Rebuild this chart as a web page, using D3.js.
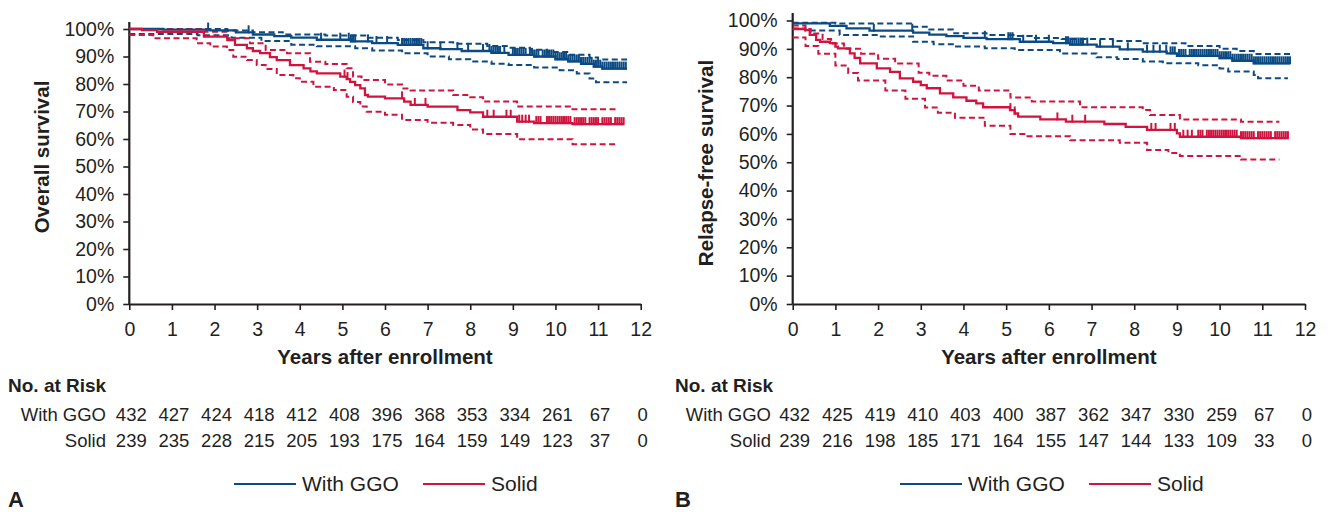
<!DOCTYPE html>
<html>
<head>
<meta charset="utf-8">
<script src="https://cdn.jsdelivr.net/npm/d3@7"></script>
<style>
  body { margin: 0; background: #fff; }
  svg { font-family: "Liberation Sans", Arial, Helvetica, sans-serif; }
</style>
</head>
<body>
<div id="chart"></div>
<script>
// ---- data ----
const years = [0, 1, 2, 3, 4, 5, 6, 7, 8, 9, 10, 11, 12];
const pctTicks = [0, 10, 20, 30, 40, 50, 60, 70, 80, 90, 100];
const groups = ["With GGO", "Solid"];

// Panel A: overall survival, steps are [year, % surviving from that year on]
const osGgo = [[0,100],[0.8,99.8],[1.9,99.5],[2.5,98.8],[2.9,98],[3.4,97.4],[3.8,96.9],[4.4,96.1],[5.2,95.5],[5.7,94.9],[6.3,94.2],[6.9,93],[7.3,92.7],[7.8,92],[8.5,91.3],[8.9,90.6],[9.5,90],[10.0,89],[10.3,88.2],[10.6,87.3],[10.9,86.3],[11.1,85.6]];
const osGgoHi = [[0,100],[2.3,99.5],[2.9,98.8],[3.6,98],[4.6,97.6],[5.6,96.8],[6.3,96],[6.9,95.2],[7.6,94.6],[8.4,93.8],[8.9,93.2],[9.4,92.5],[9.8,91.6],[10.3,90.6],[10.8,89.6],[11.0,88.9]];
const osGgoLo = [[0,98.2],[1.6,97.7],[2.4,96.8],[3.1,95.6],[3.8,94.3],[4.4,93.7],[5.3,93],[5.7,92.2],[6.4,91.2],[7.0,90],[7.5,89],[8.0,88.2],[8.5,87.4],[8.9,86.9],[9.5,86],[10.1,85],[10.5,83.8],[10.8,82],[10.95,80.6]];
const osSolid = [[0,100],[0.3,99.6],[0.65,99],[1.75,97.2],[2.3,96],[2.48,94.2],[2.76,93],[2.9,92],[3.07,91.2],[3.3,89.8],[3.46,88.7],[3.77,86.9],[4.09,85.7],[4.25,84.6],[4.4,83.9],[4.95,82.7],[5.1,81.8],[5.18,80.8],[5.3,79.6],[5.42,78.4],[5.53,76],[5.6,75.4],[6.0,74.8],[6.45,73.6],[6.6,72.4],[7.0,71.8],[7.7,70.5],[8.0,69.7],[8.3,68.1],[9.1,66.3],[9.5,65.8],[10.4,65.4]];
const osSolidHi = [[0,100],[1.8,99],[2.3,96.6],[2.83,94.8],[3.2,92.4],[3.7,91.2],[4.24,88.1],[4.6,87.3],[5.1,85.7],[5.25,82.7],[5.45,81.5],[6.0,79.8],[6.4,78.4],[6.6,77.6],[7.6,76],[8.0,75.2],[8.3,73.6],[9.1,71.8],[10.4,70.8]];
const osSolidLo = [[0,97.8],[0.56,96.6],[1.58,94.8],[1.9,93.6],[2.29,92.4],[2.44,89.9],[2.76,88.7],[2.99,86.9],[3.2,85.5],[3.46,83.3],[3.85,82.1],[4.0,80.8],[4.32,79],[4.8,77.8],[5.1,75.4],[5.25,73.5],[5.42,71.8],[5.57,69.9],[6.0,68.8],[6.4,66.9],[7.0,65.9],[7.6,65.1],[8.0,63.5],[8.3,61.8],[9.1,59.9],[10.4,58.1]];
const osEnd = { ggo: 11.68, ggoHi: 11.68, ggoLo: 11.68, solid: 11.6, solidHi: 11.45, solidLo: 11.45 };
const osGgoCens = [1.85, 2.8, 4.5, 4.95, 5.15, 5.2, 5.25, 5.3, 5.6, 5.8, 6.05, 6.4, 6.45, 6.5, 6.55, 6.6, 6.65, 6.7, 6.75, 6.8, 6.85, 7.0, 7.3, 7.7, 7.95, 8.3, 8.45, 8.5, 8.55, 8.6, 8.65, 8.7, 8.8, 9.0, 9.05, 9.1, 9.15, 9.2, 9.25, 9.3, 9.4, 9.45, 9.5, 9.55, 9.6, 9.7, 9.75, 9.8, 9.85, 9.9, 9.95, 10.0, 10.05, 10.1, 10.15, 10.2, 10.25, 10.3, 10.35, 10.4, 10.45, 10.5, 10.55, 10.6, 10.65, 10.7, 10.75, 10.8, 10.85, 10.9, 10.95, 11.0, 11.05, 11.1, 11.15, 11.2, 11.25, 11.3, 11.35, 11.4, 11.45, 11.5, 11.55, 11.6, 11.65];
const osSolidCens = [5.05, 5.12, 6.4, 6.7, 6.95, 8.4, 8.55, 8.85, 8.95, 9.15, 9.22, 9.3, 9.38, 9.55, 9.6, 9.65, 9.8, 9.85, 9.9, 9.95, 10.0, 10.05, 10.1, 10.15, 10.2, 10.25, 10.3, 10.35, 10.45, 10.5, 10.55, 10.6, 10.65, 10.7, 10.8, 10.85, 10.9, 10.95, 11.0, 11.1, 11.15, 11.2, 11.25, 11.3, 11.4, 11.45, 11.5, 11.55, 11.6];

// Panel B: relapse-free survival
const rfsGgo = [[0,99],[0.87,98.1],[1.26,97.2],[1.8,96.4],[2.82,95.7],[3.2,95],[3.6,94.5],[4.0,93.9],[4.54,93.4],[5.32,92.5],[6.1,92],[6.5,91.5],[7.12,90.8],[7.66,89.8],[8.2,89],[8.76,88.4],[9.0,87.5],[10.0,86.7],[10.3,85.8],[10.8,84.9]];
const rfsGgoHi = [[0,99.2],[1.0,98.9],[2.82,97.8],[3.2,96.8],[3.75,95.5],[4.54,94.9],[5.2,94.5],[5.6,93.8],[6.3,93.5],[7.5,92.8],[8.2,92],[9.2,91],[10.0,90],[10.4,89.2],[10.8,88.2]];
const rfsGgoLo = [[0,97.2],[0.3,96.5],[1.1,94.9],[2.0,94.4],[2.82,92.5],[3.3,91.6],[3.75,90.8],[4.5,90.2],[5.2,89.6],[6.26,88.4],[7.12,87],[7.6,86.4],[8.2,85.5],[8.67,84.9],[9.5,84.2],[10.0,83.1],[10.2,82],[10.8,80.8],[10.9,79.6]];
const rfsSolid = [[0,97],[0.29,96.6],[0.4,94.9],[0.55,93.2],[0.64,92.5],[0.87,92],[1.0,90.8],[1.06,90.2],[1.34,88.4],[1.45,86.8],[1.58,84.9],[1.97,83.1],[2.28,81.9],[2.51,79.6],[2.82,78.4],[3.0,77.2],[3.14,76.1],[3.45,74.3],[3.76,72.9],[4.07,71.7],[4.3,70.8],[4.46,69.4],[5.09,68.4],[5.2,67.2],[5.28,66.1],[5.8,65.1],[6.4,64.3],[7.3,63.5],[7.8,62.5],[8.3,61.4],[9.0,60.2],[9.07,59],[10.5,58.5]];
const rfsSolidHi = [[0,98.2],[0.3,97],[0.42,95.4],[0.7,93.5],[0.9,91.9],[1.2,90],[1.6,88.3],[2.0,86.5],[2.4,84.8],[2.95,81.6],[3.2,80.5],[3.6,78.8],[4.0,77],[4.36,75.3],[5.1,72.8],[5.6,71.4],[6.73,69.4],[8.2,68.4],[8.37,66.7],[9.07,65.1],[10.5,64.3]];
const rfsSolidLo = [[0,94],[0.3,91],[0.6,88.3],[1.0,84.1],[1.3,81.5],[1.53,78.8],[2.17,75.3],[2.64,72.4],[3.1,69.3],[3.4,67.5],[3.8,65.7],[4.5,62.9],[5.1,60],[5.5,59.2],[6.5,57.8],[7.66,56.9],[8.3,54.3],[8.8,53.3],[9.07,52.2],[10.5,51]];
const rfsEnd = { ggo: 11.65, ggoHi: 11.65, ggoLo: 11.6, solid: 11.6, solidHi: 11.4, solidLo: 11.4 };
const rfsGgoCens = [1.9, 2.8, 4.5, 5.05, 5.1, 5.15, 5.4, 5.7, 6.0, 6.4, 6.45, 6.5, 6.55, 6.6, 6.65, 6.7, 6.75, 6.8, 6.9, 7.2, 7.5, 7.85, 8.3, 8.45, 8.6, 8.75, 8.85, 8.9, 8.95, 9.05, 9.1, 9.15, 9.2, 9.3, 9.35, 9.4, 9.45, 9.5, 9.55, 9.6, 9.65, 9.7, 9.75, 9.8, 9.85, 9.9, 9.95, 10.0, 10.05, 10.1, 10.15, 10.2, 10.25, 10.3, 10.35, 10.4, 10.45, 10.5, 10.55, 10.6, 10.65, 10.7, 10.75, 10.8, 10.85, 10.9, 10.95, 11.0, 11.05, 11.1, 11.15, 11.2, 11.25, 11.3, 11.35, 11.4, 11.45, 11.5, 11.55, 11.6, 11.65];
const rfsSolidCens = [5.1, 5.2, 6.2, 6.55, 6.85, 8.4, 8.5, 8.85, 8.95, 9.15, 9.25, 9.35, 9.5, 9.55, 9.6, 9.7, 9.75, 9.8, 9.85, 9.9, 9.95, 10.0, 10.05, 10.1, 10.15, 10.2, 10.25, 10.3, 10.35, 10.4, 10.5, 10.55, 10.6, 10.65, 10.7, 10.75, 10.8, 10.9, 10.95, 11.0, 11.05, 11.1, 11.15, 11.2, 11.3, 11.35, 11.4, 11.45, 11.5, 11.55, 11.6];

// numbers at risk
const osRiskGgo = [432, 427, 424, 418, 412, 408, 396, 368, 353, 334, 261, 67, 0];
const osRiskSolid = [239, 235, 228, 215, 205, 193, 175, 164, 159, 149, 123, 37, 0];
const rfsRiskGgo = [432, 425, 419, 410, 403, 400, 387, 362, 347, 330, 259, 67, 0];
const rfsRiskSolid = [239, 216, 198, 185, 171, 164, 155, 147, 144, 133, 109, 33, 0];

const blue = "#0b4a82";
const red = "#d0143f";
const ink = "#231f20";

const svg = d3.select("#chart").append("svg")
  .attr("width", 1328)
  .attr("height", 512);

function drawPanel(p) {
  const x = d3.scaleLinear().domain([0, 12]).range([p.left, p.right]);
  const y = d3.scaleLinear().domain([0, 100]).range([304, p.top100]);
  const g = svg.append("g");

  // axes
  const yAxis = g.append("g")
    .attr("transform", "translate(" + p.left + ",0)")
    .call(d3.axisLeft(y).tickValues(pctTicks).tickFormat(d => d + "%").tickSize(6).tickPadding(9));
  yAxis.select(".domain").remove();
  yAxis.selectAll("line").attr("stroke", ink).attr("stroke-width", 1.6);
  yAxis.selectAll("text").attr("fill", ink).style("font-size", "19.5px");
  g.append("line")
    .attr("x1", p.left).attr("x2", p.left)
    .attr("y1", p.axisTop).attr("y2", 304)
    .attr("stroke", ink).attr("stroke-width", 2.2);

  const xAxis = g.append("g")
    .attr("transform", "translate(0,304)")
    .call(d3.axisBottom(x).tickValues(years).tickSize(6).tickSizeOuter(0).tickPadding(12));
  xAxis.select(".domain").attr("stroke", ink).attr("stroke-width", 1.8);
  xAxis.selectAll("line").attr("stroke", ink).attr("stroke-width", 1.6);
  xAxis.selectAll("text").attr("fill", ink).style("font-size", "19.5px");

  // titles
  g.append("text")
    .attr("transform", "translate(" + p.yTitleX + "," + p.yTitleY + ") rotate(-90)")
    .attr("text-anchor", "middle")
    .attr("fill", ink)
    .style("font-size", "20.5px").style("font-weight", "bold")
    .text(p.yTitle);
  g.append("text")
    .attr("x", (p.left + p.right) / 2).attr("y", 364)
    .attr("text-anchor", "middle")
    .attr("fill", ink)
    .style("font-size", "20.5px").style("font-weight", "bold")
    .text("Years after enrollment");

  // curves
  const line = d3.line()
    .x(d => x(d[0]))
    .y(d => y(d[1]))
    .curve(d3.curveStepAfter);
  const withEnd = (steps, end) => steps.concat([[end, steps[steps.length - 1][1]]]);

  const curves = [
    { d: p.ggoLo, end: p.end.ggoLo, c: blue, dash: true },
    { d: p.ggoHi, end: p.end.ggoHi, c: blue, dash: true },
    { d: p.solidLo, end: p.end.solidLo, c: red, dash: true },
    { d: p.solidHi, end: p.end.solidHi, c: red, dash: true },
    { d: p.ggo, end: p.end.ggo, c: blue, dash: false },
    { d: p.solid, end: p.end.solid, c: red, dash: false }
  ];
  g.selectAll(".km")
    .data(curves)
    .enter().append("path")
    .attr("class", "km")
    .attr("d", d => line(withEnd(d.d, d.end)))
    .attr("fill", "none")
    .attr("stroke", d => d.c)
    .attr("stroke-width", d => d.dash ? 2 : 2.3)
    .attr("stroke-dasharray", d => d.dash ? "6,3.5" : null);

  // censor marks
  const bis = d3.bisector(d => d[0]).right;
  const survAt = (steps, t) => steps[Math.max(0, bis(steps, t) - 1)][1];
  [[p.ggoCens, p.ggo, blue], [p.solidCens, p.solid, red]].forEach(([cens, steps, col]) => {
    g.selectAll(null)
      .data(cens)
      .enter().append("line")
      .attr("x1", t => x(t)).attr("x2", t => x(t))
      .attr("y1", t => y(survAt(steps, t)) + 1)
      .attr("y2", t => y(survAt(steps, t)) - 7)
      .attr("stroke", col)
      .attr("stroke-width", 2);
  });

  // numbers at risk
  g.append("text")
    .attr("x", p.tableX).attr("y", 392)
    .attr("fill", ink)
    .style("font-size", "19px").style("font-weight", "bold")
    .text("No. at Risk");
  [[p.riskGgo, 420.5], [p.riskSolid, 446.5]].forEach(([vals, by], i) => {
    g.append("text")
      .attr("x", p.labelRight).attr("y", by)
      .attr("text-anchor", "end")
      .attr("fill", ink)
      .style("font-size", "18.5px")
      .text(groups[i]);
    g.selectAll(null)
      .data(vals)
      .enter().append("text")
      .attr("x", (d, j) => x(years[j]) + 2)
      .attr("y", by)
      .attr("text-anchor", "middle")
      .attr("fill", ink)
      .style("font-size", "18.5px")
      .text(d => d);
  });

  // legend
  const leg = g.append("g");
  [[blue, p.legX[0]], [red, p.legX[1]]].forEach(([col, lx], i) => {
    leg.append("line")
      .attr("x1", lx).attr("x2", lx + 62)
      .attr("y1", 484).attr("y2", 484)
      .attr("stroke", col).attr("stroke-width", 2);
    leg.append("text")
      .attr("x", lx + 68).attr("y", 491)
      .attr("fill", ink)
      .style("font-size", "21px")
      .text(groups[i]);
  });

  g.append("text")
    .attr("x", p.tableX).attr("y", 507)
    .attr("fill", ink)
    .style("font-size", "22px").style("font-weight", "bold")
    .text(p.letter);
}

drawPanel({
  left: 129.3, right: 640.7, top100: 29, axisTop: 22,
  yTitle: "Overall survival", yTitleX: 49, yTitleY: 157,
  ggo: osGgo, ggoHi: osGgoHi, ggoLo: osGgoLo,
  solid: osSolid, solidHi: osSolidHi, solidLo: osSolidLo,
  end: osEnd, ggoCens: osGgoCens, solidCens: osSolidCens,
  riskGgo: osRiskGgo, riskSolid: osRiskSolid,
  tableX: 8, labelRight: 106, legX: [234, 423], letter: "A"
});

drawPanel({
  left: 792.7, right: 1305, top100: 20.5, axisTop: 13,
  yTitle: "Relapse-free survival", yTitleX: 713, yTitleY: 163,
  ggo: rfsGgo, ggoHi: rfsGgoHi, ggoLo: rfsGgoLo,
  solid: rfsSolid, solidHi: rfsSolidHi, solidLo: rfsSolidLo,
  end: rfsEnd, ggoCens: rfsGgoCens, solidCens: rfsSolidCens,
  riskGgo: rfsRiskGgo, riskSolid: rfsRiskSolid,
  tableX: 675, labelRight: 771, legX: [900, 1089], letter: "B"
});
</script>
</body>
</html>
